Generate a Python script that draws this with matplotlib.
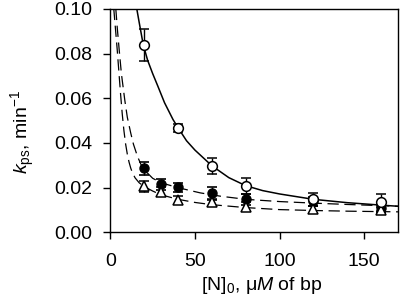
import matplotlib
matplotlib.use("Agg")
import matplotlib.pyplot as plt

plt.rcParams["font.family"] = ["Liberation Sans", "DejaVu Sans"]
plt.rcParams["mathtext.fontset"] = "custom"
plt.rcParams["mathtext.rm"] = "Liberation Sans"
plt.rcParams["mathtext.it"] = "Liberation Sans:italic"

# data points
conc_open = [20, 40, 60, 80, 120, 160]
k_open = [0.0838, 0.0467, 0.0297, 0.0209, 0.0148, 0.0134]
err_open = [0.0070, 0.0020, 0.0035, 0.0035, 0.0030, 0.0036]

conc_filled = [20, 30, 40, 60, 80, 120, 160]
k_filled = [0.0286, 0.0215, 0.0201, 0.0175, 0.0149, 0.0139, 0.0108]
err_filled = [0.0030, 0.0025, 0.0020, 0.0030, 0.0025, 0.0020, 0.0015]

conc_tri = [20, 30, 40, 60, 80, 120, 160]
k_tri = [0.0207, 0.0182, 0.0145, 0.0135, 0.0115, 0.0103, 0.0100]
err_tri = [0.0025, 0.0020, 0.0020, 0.0015, 0.0020, 0.0015, 0.0015]

# fitted curves, points
fit_open_x = [15.6, 17, 19.4, 22, 25, 28, 32, 37, 40, 45, 50, 60, 70, 80, 90, 100, 120, 140, 160, 170]
fit_open_y = [0.100, 0.094, 0.084, 0.077, 0.071, 0.0655, 0.058, 0.0505, 0.0468, 0.041, 0.0368, 0.0298,
              0.0245, 0.0209, 0.0187, 0.0172, 0.0148, 0.0133, 0.0122, 0.0117]

fit_filled_x = [3.2, 4, 5.2, 6.5, 8.5, 10, 12, 13.6, 16, 18, 20, 25, 30, 40, 53, 65, 80, 100, 120, 140, 170]
fit_filled_y = [0.100, 0.092, 0.0816, 0.071, 0.0592, 0.0515, 0.0445, 0.0395, 0.0340, 0.0305, 0.0280, 0.0242,
                0.0222, 0.0200, 0.0177, 0.0162, 0.0148, 0.0138, 0.0131, 0.0125, 0.0117]

fit_tri_x = [2.0, 3, 4, 5, 6, 7, 8, 9, 10, 11, 12, 13, 14.6, 17, 20, 25, 30, 40, 50, 60, 80, 100, 120, 140, 170]
fit_tri_y = [0.100, 0.091, 0.082, 0.072, 0.062, 0.053, 0.0455, 0.0395, 0.0350, 0.0315, 0.0288, 0.0267, 0.0244,
             0.0222, 0.0205, 0.0185, 0.0168, 0.0148, 0.0134, 0.0124, 0.0111, 0.0102, 0.0098, 0.0095, 0.0092]

fig = plt.figure(figsize=(4.0, 3.05), dpi=100)
ax = fig.add_axes([0.276, 0.238, 0.719, 0.733])

ax.plot(fit_open_x, fit_open_y, color="black", lw=1.1)
ax.plot(fit_filled_x, fit_filled_y, color="black", lw=0.9, dashes=(9, 4.5))
ax.plot(fit_tri_x, fit_tri_y, color="black", lw=0.9, dashes=(9, 4.5))

eb = dict(color="black", elinewidth=1.0, capsize=3.8, capthick=1.2, ls="none")
ax.errorbar(conc_filled, k_filled, yerr=err_filled, marker="o", ms=6.5,
            mfc="black", mec="black", **eb)
ax.errorbar(conc_tri, k_tri, yerr=err_tri, marker="^", ms=6.5,
            mfc="white", mec="black", mew=1.1, **eb)
ax.errorbar(conc_open, k_open, yerr=err_open, marker="o", ms=7,
            mfc="white", mec="black", mew=1.1, **eb)

ax.set_xlim(0, 170)
ax.set_ylim(0, 0.10)
ax.set_xticks([0, 50, 100, 150])
ax.set_yticks([0, 0.02, 0.04, 0.06, 0.08, 0.10])
ax.set_yticklabels(["0.00", "0.02", "0.04", "0.06", "0.08", "0.10"])
ax.tick_params(direction="out", length=5, width=1, labelsize=14, color="black")
ax.tick_params(axis="x", pad=10)
ax.tick_params(axis="y", pad=8)
for s in ax.spines.values():
    s.set_linewidth(1.0)

ax.set_xlabel("[N]$_0$, μ$\\it{M}$ of bp", fontsize=14)
ax.set_ylabel("$\\it{k}$$_{\\rm ps}$, min$^{-1}$", fontsize=14)
ax.xaxis.set_label_coords(0.525, -0.19)
ax.yaxis.set_label_coords(-0.255, 0.45)

fig.savefig("out.png", dpi=100)
